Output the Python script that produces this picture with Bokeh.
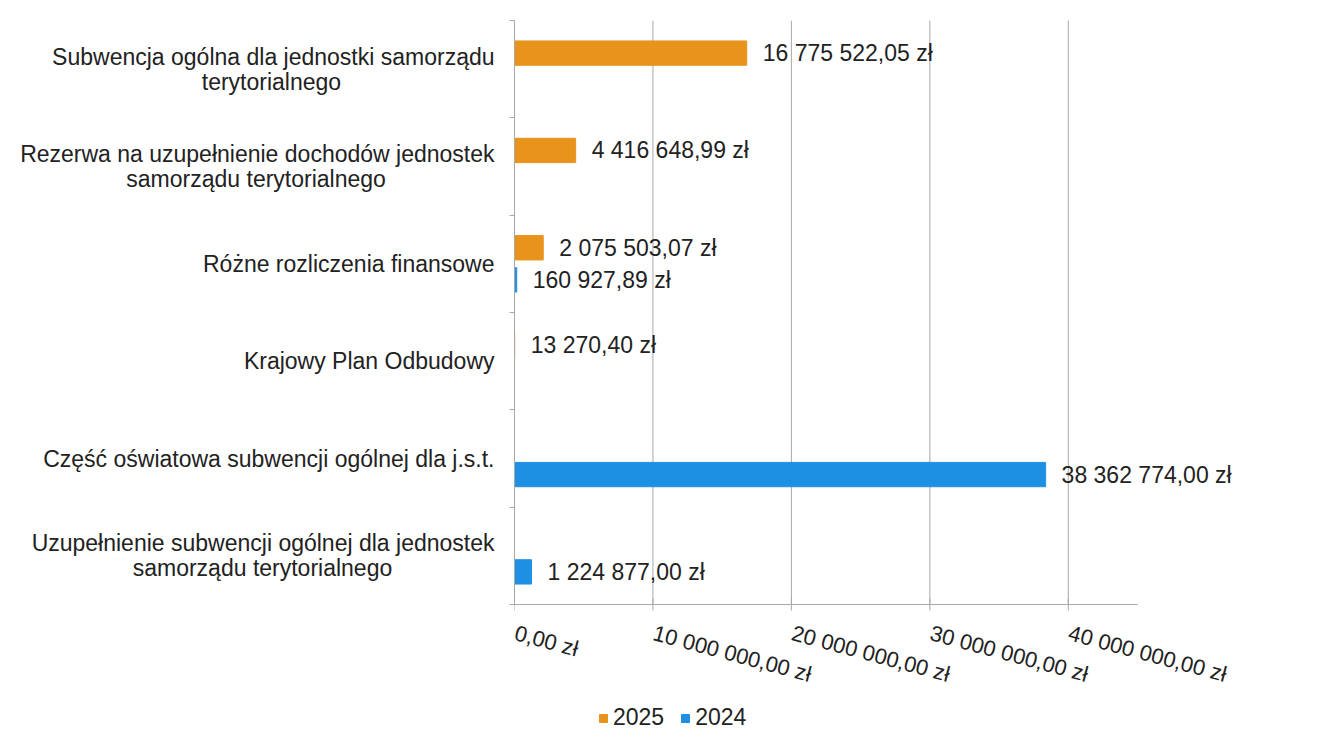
import math
from bokeh.plotting import figure
from bokeh.models import (Range1d, FixedTicker, ColumnDataSource, LabelSet,
                          Legend, LegendItem)
from bokeh.core.properties import value
from bokeh.embed import file_html
from bokeh.resources import INLINE

# ---- data ----
categories = [
    "Subwencja ogólna dla jednostki samorządu\nterytorialnego",
    "Rezerwa na uzupełnienie dochodów jednostek\nsamorządu terytorialnego",
    "Różne rozliczenia finansowe",
    "Krajowy Plan Odbudowy",
    "Część oświatowa subwencji ogólnej dla j.s.t.",
    "Uzupełnienie subwencji ogólnej dla jednostek\nsamorządu terytorialnego",
]
values_2025 = [16775522.05, 4416648.99, 2075503.07, 13270.40, None, None]
values_2024 = [None, None, 160927.89, None, 38362774.00, 1224877.00]
series_names = ["2025", "2024"]
x_ticks = [0, 10_000_000, 20_000_000, 30_000_000, 40_000_000]
x_axis_end = 45_000_000

# ---- style ----
COL_2025 = "#E8941C"
COL_2024 = "#1E90E4"
FONT = "Liberation Sans"
TXT = "#222222"
GRID = "#a8a8a8"

W, H = 1304, 736
LEFT, TOP, RIGHT, BOTTOM = 514, 20, 4, 0
AXIS_PX = 623   # drawn length of the value axis
AXIS_Y = 604    # pixel row of the value axis

# advance widths of Liberation Sans (1/1000 em), used to centre wrapped lines
CHAR_W = {" ": 278, "a": 556, "b": 556, "c": 500, "d": 556, "e": 556,
          "f": 278, "g": 556, "h": 556, "i": 222, "j": 222, "k": 500,
          "l": 222, "m": 833, "n": 556, "o": 556, "p": 556, "r": 333,
          "s": 500, "t": 278, "u": 556, "w": 722, "y": 500, "z": 500,
          "ą": 556, "ł": 222, "ó": 556, "R": 722, "S": 667, "U": 722,
          ".": 278}


def text_em(s):
    return sum(CHAR_W.get(ch, 556) for ch in s) / 1000


def center_lines(label):
    lines = label.split("\n")
    if len(lines) == 1:
        return label
    w = max(text_em(l) for l in lines)
    return "\n".join(l + "\u00a0" * round((w - text_em(l)) / 2 / 0.278)
                     for l in lines)


def pln(v):
    s = f"{v:,.2f}".replace(",", " ").replace(".", ",")
    return s + " zł"


n = len(categories)
centers = [n - i - 0.5 for i in range(n)]
offset = 0.165
bar_h = 0.25


def make_source(vals, shift):
    ys, xs, labels = [], [], []
    for c, v in zip(centers, vals):
        if v is None:
            continue
        ys.append(c + shift)
        xs.append(v)
        labels.append(pln(v))
    return ColumnDataSource(dict(y=ys, right=xs, label=labels))


src25 = make_source(values_2025, offset)
src24 = make_source(values_2024, -offset)

frame_w = W - LEFT - RIGHT
x_view_end = x_axis_end * frame_w / AXIS_PX
y_view_start = -n * (H - BOTTOM - AXIS_Y) / (AXIS_Y - TOP)

p = figure(width=W, height=H,
           x_range=Range1d(0, x_view_end), y_range=Range1d(y_view_start, n),
           x_axis_location=None,
           output_backend="svg", toolbar_location=None,
           min_border_left=LEFT, min_border_top=TOP,
           min_border_right=RIGHT, min_border_bottom=BOTTOM)
p.outline_line_color = None
p.background_fill_color = "white"

# vertical grid lines + value axis (drawn from the tick list)
p.segment(x0=x_ticks, y0=[0] * len(x_ticks), x1=x_ticks,
          y1=[n] * len(x_ticks), line_color=GRID, line_width=1)
p.segment(x0=[0], y0=[0], x1=[x_axis_end], y1=[0], line_color=GRID,
          line_width=1)
p.scatter(x=x_ticks, y=[0] * len(x_ticks), marker="dash", angle=math.pi / 2,
          size=12, line_color=GRID, line_width=1)
p.text(x=x_ticks, y=[0] * len(x_ticks), text=[pln(t) for t in x_ticks],
       angle=-math.radians(15), x_offset=4, y_offset=16,
       text_align="left", text_baseline="top",
       text_font=value(FONT), text_font_size="22px", text_color=TXT)

r25 = p.hbar(y="y", right="right", left=0, height=bar_h, source=src25,
             fill_color=COL_2025, line_color=COL_2025)
r24 = p.hbar(y="y", right="right", left=0, height=bar_h, source=src24,
             fill_color=COL_2024, line_color=COL_2024)

for src in (src25, src24):
    p.add_layout(LabelSet(x="right", y="y", text="label", source=src,
                          x_offset=16, text_baseline="middle",
                          text_font=value(FONT), text_font_size="23px",
                          text_color=TXT))

# category axis
ya = p.yaxis[0]
ya.bounds = (0, n)
ya.ticker = FixedTicker(ticks=centers, minor_ticks=list(range(n + 1)))
ya.major_label_overrides = {c: center_lines(cat)
                            for c, cat in zip(centers, categories)}
ya.major_label_text_font = FONT
ya.major_label_text_font_size = "23px"
ya.major_label_text_line_height = 0.97
ya.major_label_text_color = TXT
ya.major_label_standoff = 15
ya.axis_line_color = GRID
ya.major_tick_out = 0
ya.major_tick_in = 0
ya.minor_tick_line_color = GRID
ya.minor_tick_out = 5
ya.minor_tick_in = 0

p.xgrid.visible = False
p.ygrid.visible = False

legend = Legend(items=[LegendItem(label=series_names[0], renderers=[r25]),
                       LegendItem(label=series_names[1], renderers=[r24])],
                location=(84, 5), orientation="horizontal",
                glyph_width=10, glyph_height=10, label_standoff=5,
                spacing=16, padding=0, margin=0,
                label_text_font=FONT, label_text_font_size="23px",
                label_text_color=TXT, border_line_color=None,
                background_fill_alpha=0)
p.add_layout(legend, "center")

open("out.html", "w").write(file_html(p, INLINE))
